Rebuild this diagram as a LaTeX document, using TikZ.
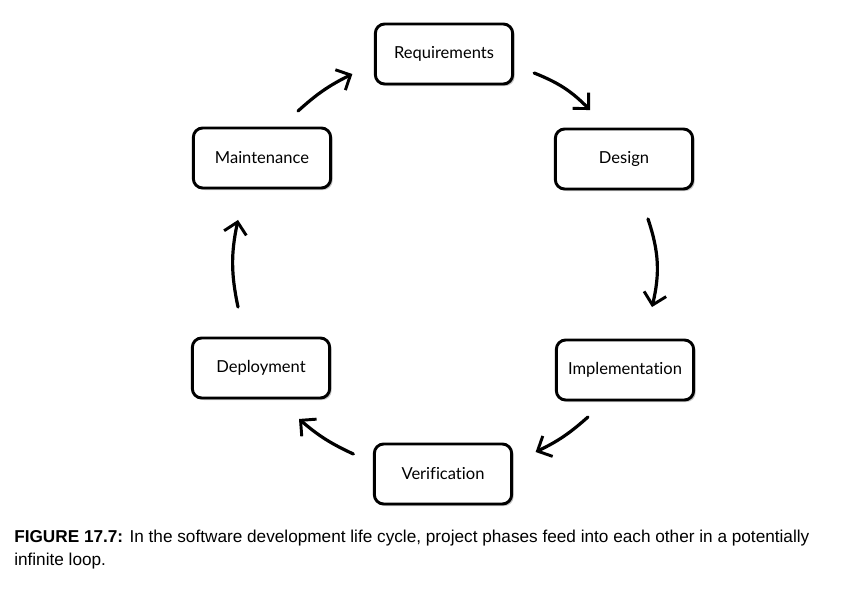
\documentclass[tikz,border=0pt]{standalone}
\usepackage{fontspec}
\setmainfont{Lato}[Ligatures=NoCommon]
\newfontfamily\capfont{Liberation Sans}
\usetikzlibrary{arrows.meta,shadows}

\tikzset{
    phase/.style={draw,line width=2.2pt,rounded corners=7pt,fill=white,
        minimum width=103pt,minimum height=45pt,font=\fontsize{12.4}{14}\selectfont,
        drop shadow={shadow xshift=1.5pt,shadow yshift=-1.5pt,opacity=0.45}},
    flow/.style={line width=2.4pt,line cap=round,
        -{Straight Barb[length=8.5pt,width=17pt,line width=2.2pt]}}
}

\begin{document}
\begin{tikzpicture}[x=0.75pt,y=-0.75pt]
    \useasboundingbox (0,0) rectangle (844,604);
    \node[phase] (req) at (444,54) {Requirements};
    \node[phase] (des) at (624,159) {Design};
    \node[phase] (imp) at (625,370) {Implementation};
    \node[phase] (ver) at (443,474) {Verification};
    \node[phase] (dep) at (261,368) {Deployment};
    \node[phase] (mai) at (262,158) {Maintenance};
    \draw[flow] ([shift={(20,19)}]req.east) to[bend left=12] ([shift={(-34,-17.5)}]des.north);
    \draw[flow] ([shift={(24,28.5)}]des.south) to[bend left=16] ([shift={(27,-31.5)}]imp.north);
    \draw[flow] ([shift={(-37,15.5)}]imp.south) to[bend left=8] ([shift={(22.5,-22)}]ver.east);
    \draw[flow] ([shift={(-19.5,-20)}]ver.west) to[bend left=8] ([shift={(38,19.5)}]dep.south);
    \draw[flow] ([shift={(-23,-29.5)}]dep.north) to[bend left=12] ([shift={(-24,30.5)}]mai.south);
    \draw[flow] ([shift={(36,-15.5)}]mai.north) to[bend left=8] ([shift={(-21.5,20)}]req.west);
    \node[anchor=north west,align=left,inner sep=0pt,font=\capfont\fontsize{12.9}{17}\selectfont] (cap) at (14,530)
        {\textbf{FIGURE 17.7:} In the software development life cycle, project phases feed into each other in a potentially\\infinite loop.};
\end{tikzpicture}
\end{document}
